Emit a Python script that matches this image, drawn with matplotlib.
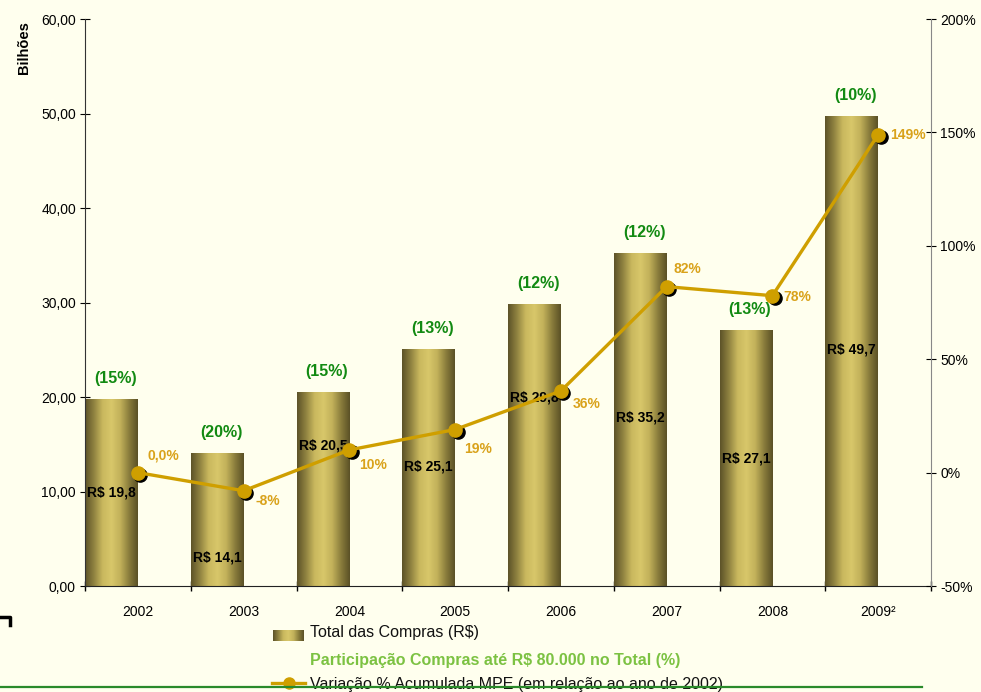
import matplotlib
matplotlib.use("Agg")
import matplotlib.pyplot as plt
import matplotlib.colors as mcolors
import matplotlib.transforms as mtransforms
from matplotlib.lines import Line2D
import numpy as np

plt.rcParams["font.family"] = ["Liberation Sans", "DejaVu Sans"]

# ---- data -------------------------------------------------------------
years = ["2002", "2003", "2004", "2005", "2006", "2007", "2008", "2009²"]
total_compras = [19.8, 14.1, 20.5, 25.1, 29.8, 35.2, 27.1, 49.7]      # R$ bilhões
total_labels = ["R$ 19,8", "R$ 14,1", "R$ 20,5", "R$ 25,1",
                "R$ 29,8", "R$ 35,2", "R$ 27,1", "R$ 49,7"]
participacao = ["(15%)", "(20%)", "(15%)", "(13%)", "(12%)", "(12%)", "(13%)", "(10%)"]
variacao = [0, -8, 10, 19, 36, 82, 78, 149]                           # %
variacao_labels = ["0,0%", "-8%", "10%", "19%", "36%", "82%", "78%", "149%"]

# label placement (not data)
total_label_y = [9.9, 3.0, 14.9, 12.6, 20.0, 17.8, 13.5, 25.0]
var_label_off = [(25, 17), (24, -10), (24, -15), (23, -19),
                 (26, -13), (21, 18), (25, -1), (30, 0)]

BG = "#ffffee"
GOLD = "#cf9f00"
GOLD_TXT = "#d9a21a"
GREEN = "#128a12"
LGREEN = "#7cc242"
bar_cmap = mcolors.LinearSegmentedColormap.from_list(
    "bar", ["#5c5228", "#8f8240", "#c9b85e", "#d8c76a", "#c2b15a", "#8a7d3c", "#5a5026"])
grad = np.linspace(0, 1, 256).reshape(1, -1)

fig = plt.figure(figsize=(9.81, 6.92), dpi=100)
fig.patch.set_facecolor(BG)
ax = fig.add_axes([85 / 981, 106 / 692, 846 / 981, 567 / 692])
ax.set_facecolor(BG)

x = np.arange(len(years))
bars = ax.bar(x - 0.25, total_compras, width=0.5, color="none", edgecolor="none", zorder=2)
for b in bars:
    x0, w, h = b.get_x(), b.get_width(), b.get_height()
    im = ax.imshow(grad, cmap=bar_cmap, extent=[x0, x0 + w, 0, h],
                   aspect="auto", zorder=2, interpolation="bilinear")
    im.set_clip_path(b)

ax.set_xlim(-0.5, len(years) - 0.5)
ax.set_ylim(0, 60)
ax.set_yticks(np.arange(0, 61, 10))
ax.set_yticklabels([f"{v:.2f}".replace(".", ",") for v in np.arange(0, 61, 10)])
ax.set_xticks(x)
ax.set_xticklabels(years)
ax.set_xticks(np.arange(-0.5, len(years), 1.0), minor=True)
ax.tick_params(axis="x", which="major", length=0, pad=14, labelsize=10)
ax.tick_params(axis="x", which="minor", length=7, direction="inout", width=1)
ax.tick_params(axis="y", length=7, direction="inout", labelsize=10, pad=3)
for s in ["top", "right"]:
    ax.spines[s].set_visible(False)
ax.spines["left"].set_color("#333333")
ax.spines["bottom"].set_color("#222222")
ax.set_ylabel("Bilhões", fontsize=10.5, fontweight="bold")
ax.yaxis.set_label_coords(-0.064, 0.95)

for i, b in enumerate(bars):
    cx = b.get_x() + b.get_width() / 2
    ax.text(cx, total_label_y[i], total_labels[i], ha="center", va="center",
            fontsize=10, fontweight="bold", color="black", zorder=6)
    ax.annotate(participacao[i], (cx, b.get_height()), xytext=(4, 13),
                textcoords="offset pixels", ha="center", va="bottom",
                fontsize=11.5, fontweight="bold", color=GREEN)

# line on secondary axis
ax2 = ax.twinx()
ax2.set_ylim(-50, 200)
ax2.set_yticks(np.arange(-50, 201, 50))
ax2.set_yticklabels([f"{v}%" for v in np.arange(-50, 201, 50)])
ax2.tick_params(axis="y", length=7, direction="inout", labelsize=10, pad=3)
for s in ["top", "left", "bottom"]:
    ax2.spines[s].set_visible(False)
ax2.spines["right"].set_color("#888888")

shadow = mtransforms.offset_copy(ax2.transData, fig=fig, x=2.5, y=-2.5, units="dots")
ax2.plot(x, variacao, "o", color="black", markersize=9.5, transform=shadow, zorder=3)
ax2.plot(x, variacao, "-o", color=GOLD, lw=2.4, markersize=9.5, zorder=4)
for i in range(len(x)):
    ax2.annotate(variacao_labels[i], (x[i], variacao[i]), xytext=var_label_off[i],
                 textcoords="offset pixels", ha="center", va="center",
                 fontsize=10, fontweight="bold", color=GOLD_TXT)

# legend (manual)
sw = fig.add_axes([273 / 981, (692 - 641) / 692, 31 / 981, 11 / 692])
sw.imshow(grad, cmap=bar_cmap, aspect="auto", interpolation="bilinear")
sw.axis("off")
fig.text(310 / 981, 1 - 633 / 692, "Total das Compras (R$)", fontsize=11.5,
         va="center", ha="left", color="#111111")
fig.text(310 / 981, 1 - 660 / 692, "Participação Compras até R$ 80.000 no Total (%)",
         fontsize=11.5, fontweight="bold", va="center", ha="left", color=LGREEN)
fig.text(310 / 981, 1 - 684 / 692, "Variação % Acumulada MPE (em relação ao ano de 2002)",
         fontsize=11.5, va="center", ha="left", color="#111111")
fig.add_artist(Line2D([272 / 981, 305 / 981], [1 - 683 / 692] * 2, color=GOLD, lw=2.4,
                      transform=fig.transFigure))
fig.add_artist(Line2D([289 / 981], [1 - 683 / 692], marker="o", color=GOLD,
                      markersize=8, transform=fig.transFigure))

# bottom rule and corner mark
fig.add_artist(Line2D([0, 922 / 981], [1 - 687 / 692] * 2, color="#2a8a2a", lw=1.6,
                      transform=fig.transFigure, zorder=10))
fig.add_artist(Line2D([0, 10 / 981, 10 / 981], [1 - 617 / 692, 1 - 617 / 692, 1 - 625 / 692],
                      color="black", lw=2.5, transform=fig.transFigure))

fig.savefig("out.png", dpi=100, facecolor=BG)
